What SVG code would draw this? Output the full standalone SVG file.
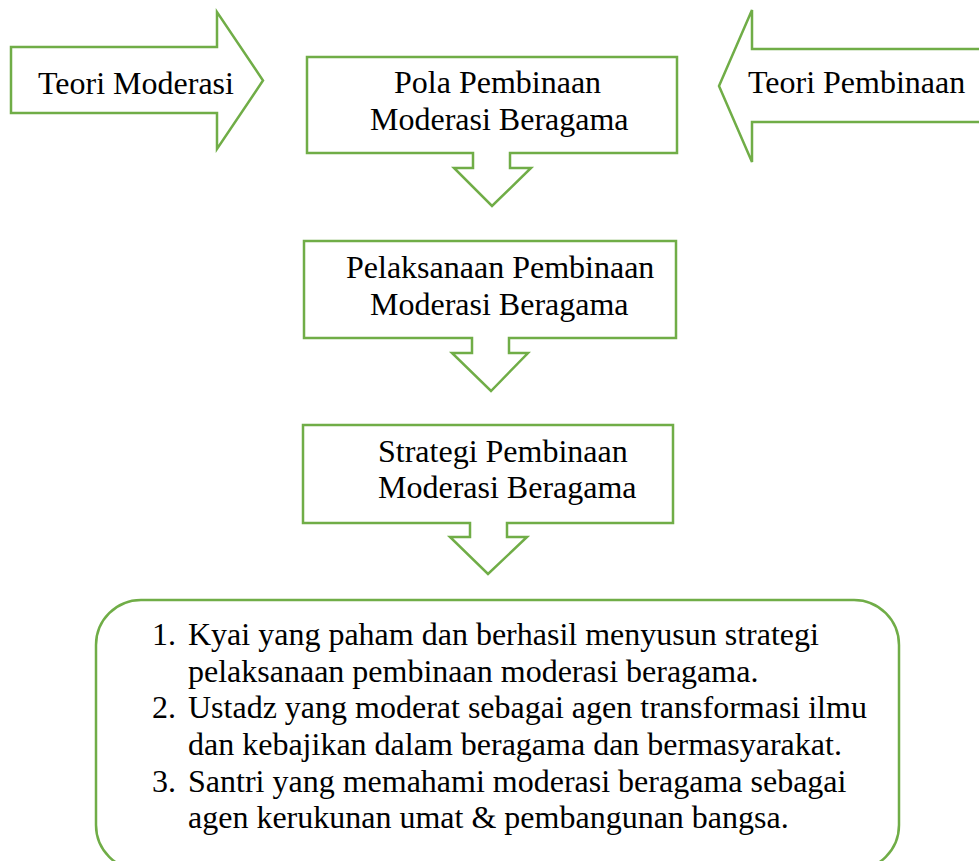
<svg xmlns="http://www.w3.org/2000/svg" width="979" height="861" viewBox="0 0 979 861">
<style>
.shape{fill:#ffffff;stroke:#70AD47;stroke-width:2.5;stroke-linejoin:miter}
.t{font-family:"Liberation Serif","Times New Roman",serif;font-size:32px;fill:#000000}
</style>
<rect x="0" y="0" width="979" height="861" fill="#ffffff"/>
<g id="connectors"></g>
<g id="teori-moderasi">
<path class="shape" d="M11,47 H217 V12 L263,80.5 L217,149 V113 H11 Z"/>
<text class="t" x="38" y="94">Teori Moderasi</text>
</g>
<g id="teori-pembinaan">
<path class="shape" d="M990,49 H752 V10 L719,86 L752,162 V122 H990 Z"/>
<text class="t" x="748" y="93">Teori Pembinaan</text>
</g>
<g id="pola">
<path class="shape" d="M307,57 H677 V153 H510 V168 H531 L492,206 L454,168 H473 V153 H307 Z"/>
<text class="t" x="394" y="93">Pola Pembinaan</text>
<text class="t" x="370" y="130">Moderasi Beragama</text>
</g>
<g id="pelaksanaan">
<path class="shape" d="M304,241 H676 V338 H509 V353 H528 L491,391 L452,353 H472 V338 H304 Z"/>
<text class="t" x="346" y="278">Pelaksanaan Pembinaan</text>
<text class="t" x="370" y="315">Moderasi Beragama</text>
</g>
<g id="strategi">
<path class="shape" d="M303,425 H673 V523 H507 V537 H527 L488,574 L450,537 H470 V523 H303 Z"/>
<text class="t" x="378" y="462">Strategi Pembinaan</text>
<text class="t" x="378" y="498">Moderasi Beragama</text>
</g>
<g id="hasil">
<rect class="shape" x="96" y="600" width="803" height="270" rx="45" ry="45"/>
<text class="t" x="152" y="645">1.</text>
<text class="t" x="188" y="645">Kyai yang paham dan berhasil menyusun strategi</text>
<text class="t" x="188" y="682">pelaksanaan pembinaan moderasi beragama.</text>
<text class="t" x="152" y="718">2.</text>
<text class="t" x="188" y="718">Ustadz yang moderat sebagai agen transformasi ilmu</text>
<text class="t" x="188" y="755">dan kebajikan dalam beragama dan bermasyarakat.</text>
<text class="t" x="152" y="792">3.</text>
<text class="t" x="188" y="792">Santri yang memahami moderasi beragama sebagai</text>
<text class="t" x="188" y="828">agen kerukunan umat &amp; pembangunan bangsa.</text>
</g>
</svg>
